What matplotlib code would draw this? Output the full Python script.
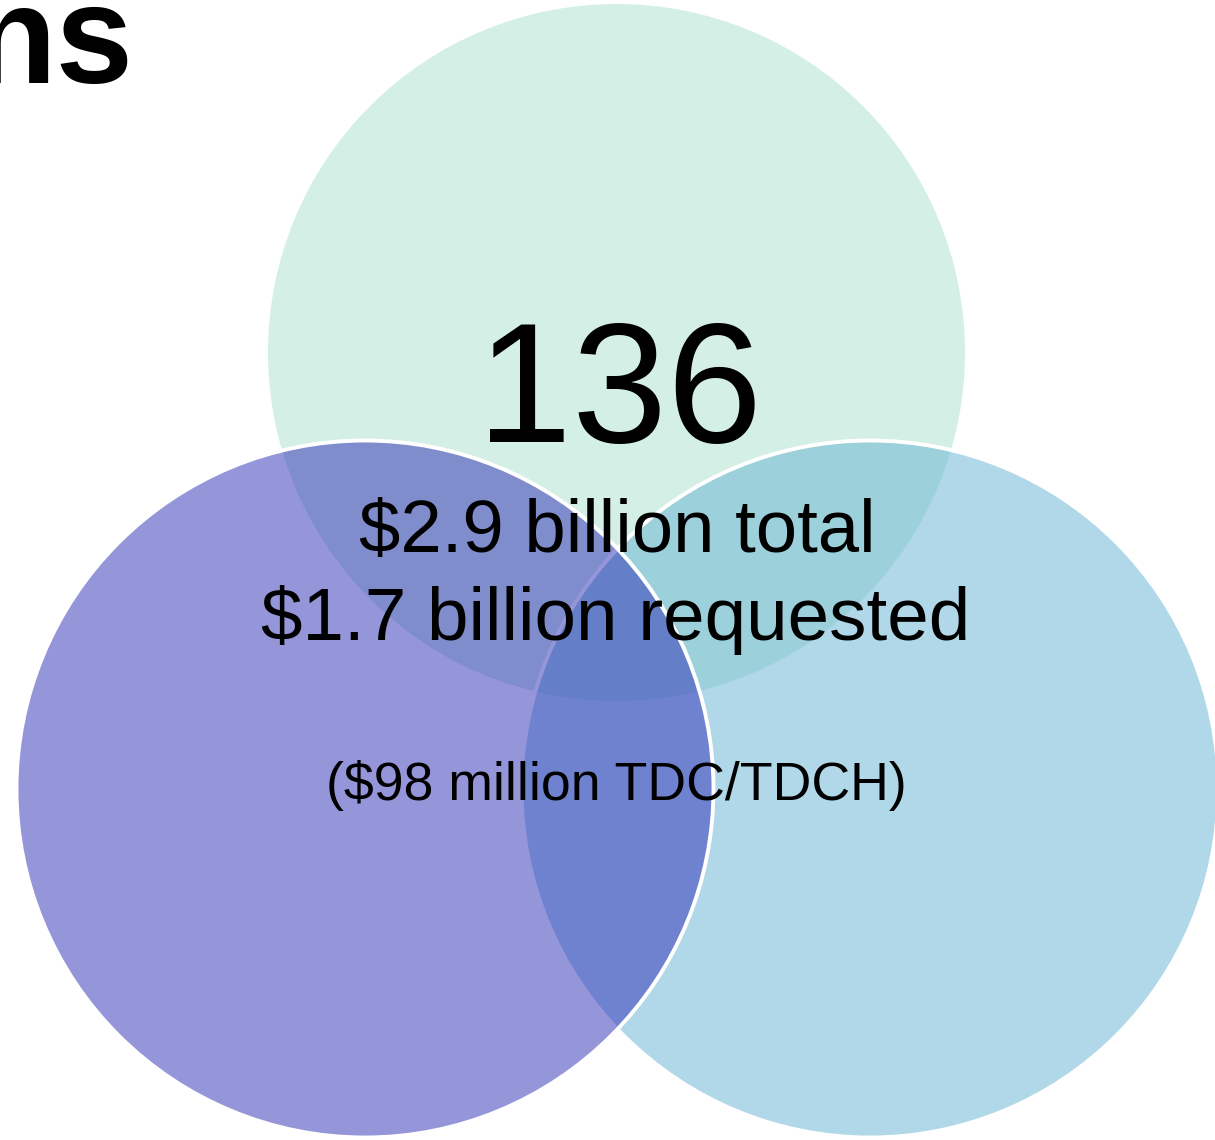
import matplotlib.pyplot as plt
from matplotlib.patches import Circle

# text shown on the chart
title_tail = "ns"
count_label = "136"
total_lines = ["$2.9 billion total", "$1.7 billion requested"]
note_label = "($98 million TDC/TDCH)"

# circle fills (drawn back to front: top, right, left)
circle_names = ["top", "right", "left"]
circle_colors = ["#d4efe5", "#65b3d3", "#2d2db7"]
circle_alphas = [1.0, 0.5, 0.5]

W, H = 1215, 1140
plt.rcParams['font.family'] = ['Liberation Sans', 'DejaVu Sans']

fig = plt.figure(figsize=(W / 100, H / 100), dpi=100)
ax = fig.add_axes([0, 0, 1, 1])
ax.set_xlim(0, W)
ax.set_ylim(H, 0)
ax.set_aspect('equal')
ax.axis('off')

centers = {"top": (616.5, 352.5), "right": (870, 789), "left": (365, 789)}
radius = 348.5

for z, (name, col, a) in enumerate(zip(circle_names, circle_colors, circle_alphas)):
    rgba = plt.matplotlib.colors.to_rgba(col, a)
    edge = 'none' if name == "top" else 'white'
    ax.add_patch(Circle(centers[name], radius, facecolor=rgba, edgecolor=edge,
                        linewidth=2.8, zorder=z + 1))

# title is cropped at the left edge in the source image
ax.text(134, 83, title_tail, ha='right', va='baseline', fontsize=100,
        fontweight='bold', zorder=10)
ax.text(620, 442, count_label, ha='center', va='baseline', fontsize=123, zorder=10)
ax.text(617, 552, total_lines[0], ha='center', va='baseline', fontsize=53.6, zorder=10)
ax.text(616, 640, total_lines[1], ha='center', va='baseline', fontsize=53.7, zorder=10)
ax.text(616, 800, note_label, ha='center', va='baseline', fontsize=38.6, zorder=10)

fig.savefig("out.png", dpi=100)
